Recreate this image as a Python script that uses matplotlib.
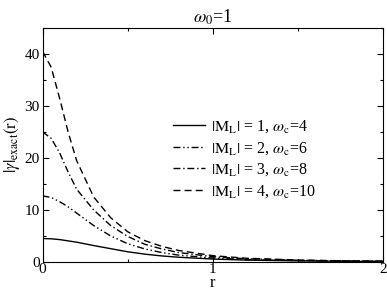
import numpy as np
import matplotlib.pyplot as plt
from matplotlib.ticker import MultipleLocator

plt.rcParams['font.family'] = ['Liberation Serif', 'DejaVu Serif']
plt.rcParams['mathtext.fontset'] = 'stix'

# valores
r = [0.0, 0.05, 0.1, 0.15, 0.2, 0.3, 0.4, 0.5, 0.6, 0.7, 0.8, 1.0, 1.2, 1.5, 1.75, 2.0]
gamma_m1 = [4.5, 4.45, 4.3, 4.05, 3.8, 3.15, 2.55, 1.95, 1.5, 1.15, 0.9, 0.55, 0.35, 0.2, 0.12, 0.08]
gamma_m2 = [12.7, 12.4, 11.6, 10.6, 9.4, 7.0, 5.0, 3.5, 2.5, 1.8, 1.3, 0.75, 0.45, 0.25, 0.16, 0.1]
gamma_m3 = [25.0, 23.8, 21.0, 17.3, 14.0, 10.0, 7.0, 4.9, 3.4, 2.5, 1.8, 1.0, 0.6, 0.32, 0.2, 0.12]
gamma_m4 = [40.5, 37.5, 31.5, 25.0, 19.5, 12.5, 8.5, 5.8, 4.1, 3.0, 2.2, 1.2, 0.7, 0.37, 0.22, 0.14]

etiquetas = [r'$|\mathrm{M_L}|$ = 1, $\omega_\mathrm{c}$=4',
             r'$|\mathrm{M_L}|$ = 2, $\omega_\mathrm{c}$=6',
             r'$|\mathrm{M_L}|$ = 3, $\omega_\mathrm{c}$=8',
             r'$|\mathrm{M_L}|$ = 4, $\omega_\mathrm{c}$=10']
estilos = ['-', (0, (5, 2, 1, 2, 1, 2)), (0, (5, 2, 1, 2)), (0, (5, 3))]

fig = plt.figure(figsize=(3.87, 2.92), dpi=100)
ax = fig.add_axes([0.110, 0.103, 0.880, 0.801])

for y, ls, lab in zip([gamma_m1, gamma_m2, gamma_m3, gamma_m4], estilos, etiquetas):
    ax.plot(r, y, color='black', lw=1.0, linestyle=ls, label=lab)

ax.set_xlim(0, 2)
ax.set_ylim(0, 45)
ax.xaxis.set_major_locator(MultipleLocator(1))
ax.xaxis.set_minor_locator(MultipleLocator(0.5))
ax.yaxis.set_major_locator(MultipleLocator(10))
ax.yaxis.set_minor_locator(MultipleLocator(5))
ax.tick_params(which='both', direction='in', top=True, right=True, labelsize=11, pad=2)
ax.tick_params(axis='x', which='both', pad=0.5)
ax.tick_params(which='major', length=4, width=0.8)
ax.tick_params(which='minor', length=2.5, width=0.8)

ax.set_title(r'$\omega_0$=1', fontsize=13, pad=4)
ax.set_xlabel('r', fontsize=12, va='bottom')
ax.xaxis.set_label_coords(0.5, -0.124)
ax.set_ylabel(r'$|\gamma|_{\mathrm{exact}}(\mathrm{r})$', fontsize=12)
ax.yaxis.set_label_coords(-0.06, 0.5)

ax.legend(loc='center left', bbox_to_anchor=(0.34, 0.44), frameon=False,
          fontsize=11.5, handlelength=2.0, handletextpad=0.4, labelspacing=0.3)

fig.savefig('out.png', dpi=100)
